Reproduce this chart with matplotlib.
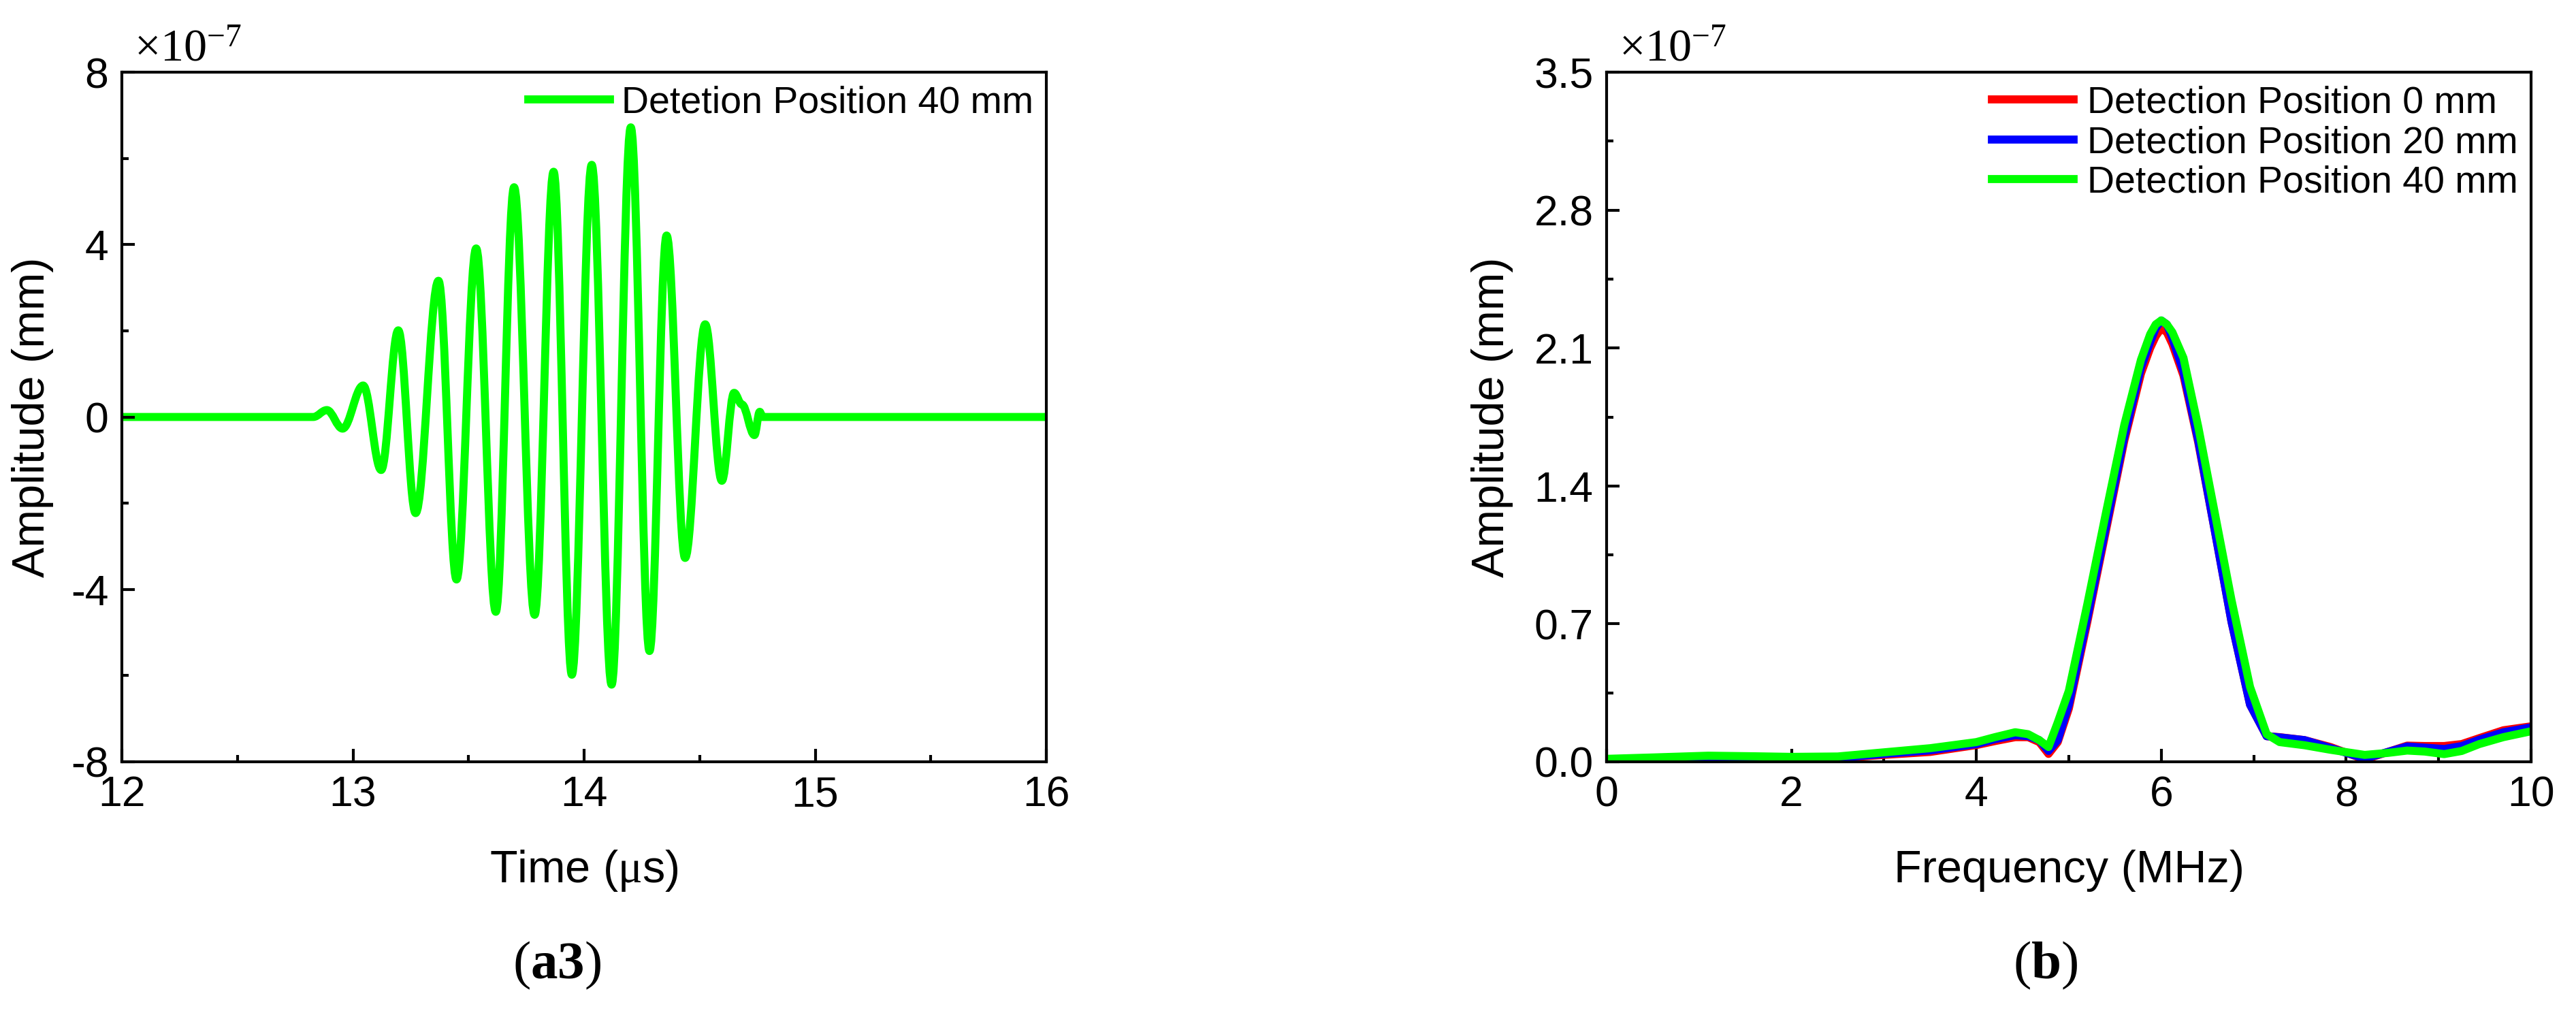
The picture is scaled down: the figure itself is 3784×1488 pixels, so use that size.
import numpy as np
import matplotlib
matplotlib.use("Agg")
import matplotlib.pyplot as plt
from matplotlib.path import Path
from matplotlib.patches import PathPatch
from matplotlib.lines import Line2D
from matplotlib.ticker import MultipleLocator, FormatStrFormatter

plt.rcParams['font.family'] = ['Liberation Sans', 'DejaVu Sans']
plt.rcParams['mathtext.fontset'] = 'custom'
plt.rcParams['mathtext.rm'] = 'Liberation Serif'
plt.rcParams['mathtext.it'] = 'Liberation Serif:italic'
plt.rcParams['mathtext.bf'] = 'Liberation Serif:bold'
plt.rcParams['axes.unicode_minus'] = False

# (a3) time signal, amplitude in units of 1e-7 mm
# extrema of the wave packet
t_ext = [12.828, 12.887, 12.955, 13.044, 13.122, 13.196, 13.271, 13.370, 13.448,
         13.533, 13.618, 13.697, 13.786, 13.868, 13.947, 14.033, 14.119, 14.202,
         14.283, 14.357, 14.437, 14.524, 14.596, 14.649, 14.683, 14.737, 14.760, 14.772]
a_ext = [0.0, 0.16, -0.27, 0.73, -1.23, 2.01, -2.23, 3.16, -3.77,
         3.91, -4.52, 5.33, -4.59, 5.69, -5.98, 5.85, -6.21, 6.72,
         -5.43, 4.21, -3.27, 2.15, -1.48, 0.56, 0.29, -0.42, 0.12, 0.0]
t_start, t_end = 12.0, 16.0

# (b) spectra, amplitude in units of 1e-7 mm
freq = [0, 0.5, 1.1, 1.6, 2.0, 2.5, 3.0, 3.5, 4.0, 4.2, 4.42, 4.56, 4.68, 4.78, 4.88,
        5.0, 5.2, 5.4, 5.6, 5.78, 5.88, 5.94, 6.0, 6.06, 6.12, 6.24, 6.4, 6.58, 6.76,
        6.96, 7.14, 7.28, 7.55, 7.83, 8.2, 8.45, 8.66, 8.85, 9.06, 9.25, 9.44, 9.7, 10.0]
amp_0mm = [0.005, 0.008, 0.012, 0.015, 0.02, 0.018, 0.035, 0.05, 0.085, 0.105, 0.125,
           0.125, 0.10, 0.04, 0.10, 0.27, 0.71, 1.17, 1.63, 1.97, 2.10, 2.16, 2.20,
           2.18, 2.12, 1.96, 1.62, 1.17, 0.71, 0.29, 0.13, 0.125, 0.11, 0.075, 0.012,
           0.05, 0.082, 0.08, 0.08, 0.09, 0.12, 0.16, 0.18]
amp_20mm = [0.008, 0.012, 0.02, 0.02, 0.022, 0.02, 0.04, 0.058, 0.09, 0.115, 0.135,
            0.13, 0.11, 0.055, 0.11, 0.29, 0.73, 1.19, 1.65, 2.00, 2.13, 2.20, 2.24,
            2.22, 2.15, 1.98, 1.63, 1.17, 0.71, 0.29, 0.13, 0.124, 0.11, 0.07, 0.017,
            0.05, 0.078, 0.072, 0.065, 0.08, 0.112, 0.15, 0.175]
amp_40mm = [0.015, 0.022, 0.031, 0.028, 0.025, 0.027, 0.048, 0.069, 0.10, 0.125, 0.15,
            0.14, 0.11, 0.075, 0.2, 0.36, 0.80, 1.26, 1.71, 2.04, 2.17, 2.22, 2.24,
            2.22, 2.18, 2.05, 1.70, 1.26, 0.82, 0.38, 0.14, 0.10, 0.084, 0.061, 0.035,
            0.045, 0.057, 0.052, 0.039, 0.055, 0.09, 0.125, 0.155]

labels_b = ['Detection Position 0 mm', 'Detection Position 20 mm', 'Detection Position 40 mm']
colors_b = ['#ff0000', '#0000ff', '#00ff00']
label_a = 'Detetion Position 40 mm'

W, H = 3784, 1488
fig = plt.figure(figsize=(W / 100, H / 100), dpi=100)
ax1 = fig.add_axes([179 / W, 1 - 1119 / H, 1358 / W, 1013 / H])
ax2 = fig.add_axes([2360 / W, 1 - 1119 / H, 1358 / W, 1013 / H])

LW = 8.5
FS = 45


def smooth_path(ts, vs, t0, t1, k=0.363):
    # cubic segments with flat tangents at each extremum
    verts = [(t0, 0.0), (ts[0], vs[0])]
    codes = [Path.MOVETO, Path.LINETO]
    for i in range(len(ts) - 1):
        dt = ts[i + 1] - ts[i]
        verts += [(ts[i] + k * dt, vs[i]), (ts[i + 1] - k * dt, vs[i + 1]), (ts[i + 1], vs[i + 1])]
        codes += [Path.CURVE4] * 3
    verts.append((t1, 0.0))
    codes.append(Path.LINETO)
    return Path(verts, codes)


ax1.add_patch(PathPatch(smooth_path(t_ext, a_ext, t_start, t_end), facecolor='none',
                        edgecolor='#00ff00', lw=LW, capstyle='butt', joinstyle='round'))
ax1.set_xlim(12, 16)
ax1.set_ylim(-8, 8)
ax1.xaxis.set_major_locator(MultipleLocator(1))
ax1.xaxis.set_minor_locator(MultipleLocator(0.5))
ax1.yaxis.set_major_locator(MultipleLocator(4))
ax1.yaxis.set_minor_locator(MultipleLocator(2))
ax1.yaxis.set_major_formatter(FormatStrFormatter('%d'))
ax1.set_xlabel('Time ($\\mathrm{\\mu}$s)', fontsize=48)
ax1.set_ylabel('Amplitude (mm)', fontsize=48)
ax1.legend([Line2D([], [], color='#00ff00', lw=LW)], [label_a], loc='upper right',
           bbox_to_anchor=(1.0, 1.0), frameon=False, fontsize=40, handlelength=2.15,
           handletextpad=0.3, borderaxespad=0.15, borderpad=0.2)

for c, lab, a in zip(colors_b, labels_b, [amp_0mm, amp_20mm, amp_40mm]):
    ax2.plot(freq, a, color=c, lw=LW, label=lab, solid_joinstyle='round')
ax2.set_xlim(0, 10)
ax2.set_ylim(0, 3.5)
ax2.xaxis.set_major_locator(MultipleLocator(2))
ax2.xaxis.set_minor_locator(MultipleLocator(1))
ax2.yaxis.set_major_locator(MultipleLocator(0.7))
ax2.yaxis.set_minor_locator(MultipleLocator(0.35))
ax2.yaxis.set_major_formatter(FormatStrFormatter('%.1f'))
ax2.set_xlabel('Frequency (MHz)', fontsize=48)
ax2.set_ylabel('Amplitude (mm)', fontsize=48)
ax2.legend(loc='upper right', bbox_to_anchor=(1.0, 1.0), frameon=False, fontsize=40,
           handlelength=2.15, handletextpad=0.36, labelspacing=0.12,
           borderaxespad=0.15, borderpad=0.2)

for ax in (ax1, ax2):
    for s in ax.spines.values():
        s.set_linewidth(3)
    ax.tick_params(which='both', direction='in', top=False, right=False,
                   labelsize=FS, pad=14, width=3)
    ax.tick_params(which='major', length=14)
    ax.tick_params(which='minor', length=7)
    ax.xaxis.label.set_va('center')
    ax.yaxis.label.set_va('center')
    ax.xaxis.set_label_coords(0.5, -0.158)
    ax.text(18 / 1358, 1 + 17 / 1013, '$\\times10^{-7}$', transform=ax.transAxes,
            ha='left', va='baseline', fontsize=49)

ax1.yaxis.set_label_coords(-0.0965, 0.5)
ax2.yaxis.set_label_coords(-0.124, 0.5)

fig.text(818 / W, 1 - 1418 / H, '($\\mathbf{a3}$)', ha='center', va='center',
         fontsize=57, family='Liberation Serif')
fig.text(3005 / W, 1 - 1418 / H, '($\\mathbf{b}$)', ha='center', va='center',
         fontsize=57, family='Liberation Serif')

fig.savefig('out.png', dpi=100)
